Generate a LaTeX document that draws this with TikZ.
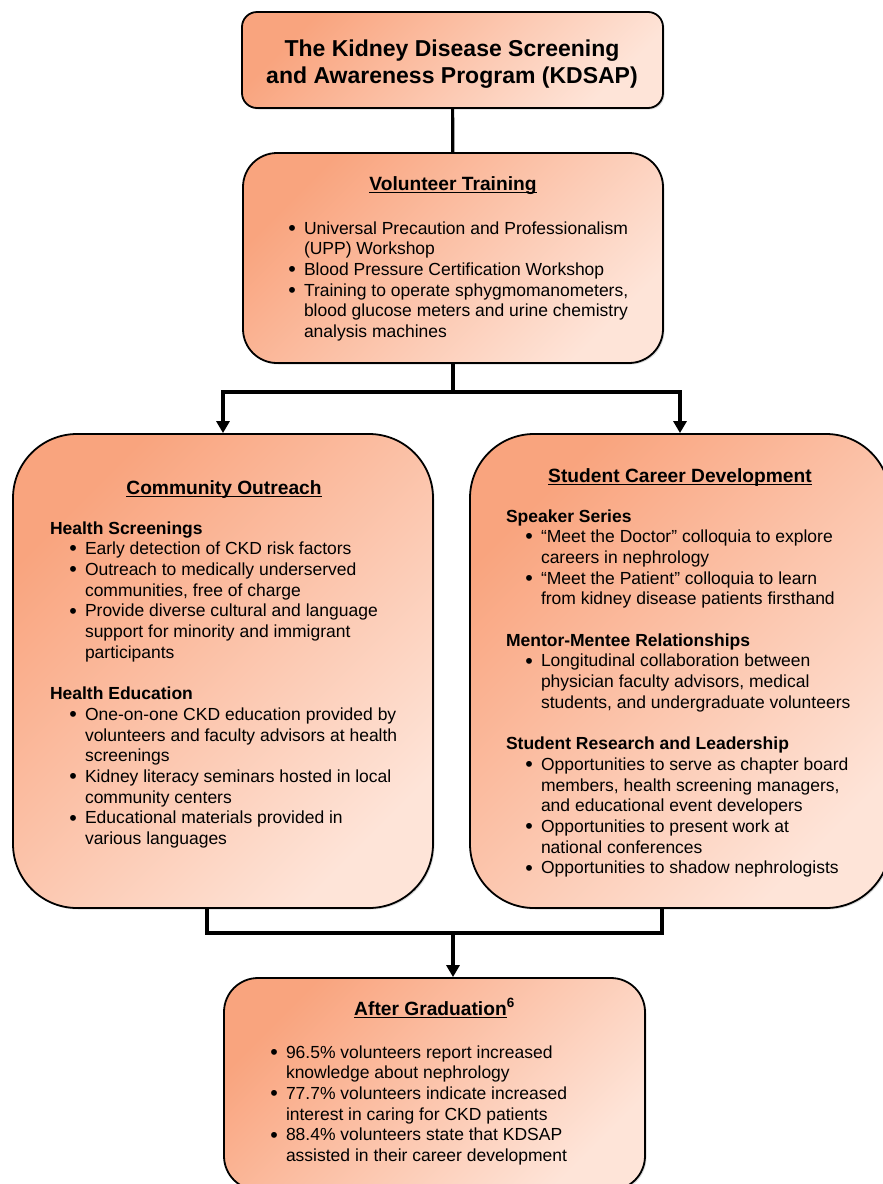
\documentclass[tikz,border=0pt]{standalone}
\usepackage{fontspec}
\setmainfont{Liberation Sans}
\usetikzlibrary{shadows,arrows.meta}
\definecolor{cdark}{RGB}{249,164,126}
\definecolor{clight}{RGB}{254,228,216}
\newcommand\hdul[1]{\setbox0\hbox{#1}\rlap{\rule[-3.2pt]{\wd0}{1.5pt}}\box0}
\newcommand\bdot{\raisebox{-1.2pt}{\fontsize{21.5pt}{0pt}\selectfont•}}
\newcommand\bl{\par\noindent\llap{\bdot\hspace{8pt}}}
\newcommand\sh[1]{\par\noindent\hspace*{-35pt}\textbf{#1}}
\newcommand\gapline{\par\vspace{20.7pt}}
\newcommand\blk[1]{\parbox[t]{400pt}{\fontsize{17.5pt}{20.7pt}\selectfont\raggedright #1}}
\newcommand\hdfont{\fontsize{19.2pt}{23pt}\selectfont\bfseries}
\tikzset{
  box/.style={draw=black, line width=1.8pt, top color=cdark, bottom color=clight, shading angle=45,
    drop shadow={shadow xshift=1.5pt, shadow yshift=-1.5pt, opacity=0.3}, inner sep=0pt},
  conn/.style={line width=3.2pt, draw=black, line join=miter},
  arr/.style={conn, -{Triangle[length=12pt,width=13pt]}},
  txt/.style={inner sep=0pt, outer sep=0pt, anchor=base west},
  hd/.style={inner sep=0pt, outer sep=0pt, anchor=base, font=\hdfont}
}
\begin{document}
\begin{tikzpicture}[x=1pt,y=-1pt]
\clip (0,0) rectangle (883,1184);
% boxes
\node[box, minimum width=421pt, minimum height=96pt, rounded corners=15pt] (b1) at (452.5,60) {};
\node[box, minimum width=420pt, minimum height=210pt, rounded corners=34pt] (b2) at (453,258) {};
\node[box, minimum width=420pt, minimum height=474pt, rounded corners=64pt] (b3) at (223,671) {};
\node[box, minimum width=420pt, minimum height=474pt, rounded corners=64pt] (b4) at (680,671) {};
\node[box, minimum width=421pt, minimum height=212pt, rounded corners=34pt] (b5) at (434.5,1084) {};
% connectors
\coordinate (split) at (453,392);
\coordinate (merge) at (453,933);
\draw[conn] (b1) -- (b2);
\draw[conn] (b2.south) -- (split);
\draw[arr] (split) -| (b3.north);
\draw[arr] (split) -| (b4.north);
\draw[conn] ([xshift=-16pt]b3.south) |- (merge) -| ([xshift=-18pt]b4.south);
\draw[arr] (merge) -- (merge |- b5.north);
% title
\node[inner sep=0pt, anchor=base] (t1) at (452,56) {\parbox[t]{420pt}{\centering\fontsize{23pt}{27pt}\selectfont\bfseries The Kidney Disease Screening\\ and Awareness Program (KDSAP)}};
% volunteer training
\node[hd] (h2) at (453,190) {\hdul{Volunteer Training}};
\node[txt] (l2) at (304,234) {\blk{%
\bl Universal Precaution and Professionalism\\ (UPP) Workshop
\bl Blood Pressure Certification Workshop
\bl Training to operate sphygmomanometers,\\ blood glucose meters and urine chemistry\\ analysis machines}};
% community outreach
\node[hd] (h3) at (224,494) {\hdul{Community Outreach}};
\node[txt] (l3) at (85,534) {\blk{%
\sh{Health Screenings}
\bl Early detection of CKD risk factors
\bl Outreach to medically underserved\\ communities, free of charge
\bl Provide diverse cultural and language\\ support for minority and immigrant\\ participants
\gapline
\sh{Health Education}
\bl One-on-one CKD education provided by\\ volunteers and faculty advisors at health\\ screenings
\bl Kidney literacy seminars hosted in local\\ community centers
\bl Educational materials provided in\\ various languages}};
% student career development
\node[hd] (h4) at (680,482) {\hdul{Student Career Development}};
\node[txt] (l4) at (541,522) {\blk{%
\sh{Speaker Series}
\bl “Meet the Doctor” colloquia to explore\\ careers in nephrology
\bl “Meet the Patient” colloquia to learn\\ from kidney disease patients firsthand
\gapline
\sh{Mentor-Mentee Relationships}
\bl Longitudinal collaboration between\\ physician faculty advisors, medical\\ students, and undergraduate volunteers
\gapline
\sh{Student Research and Leadership}
\bl Opportunities to serve as chapter board\\ members, health screening managers,\\ and educational event developers
\bl Opportunities to present work at\\ national conferences
\bl Opportunities to shadow nephrologists}};
% after graduation
\node[hd] (h5) at (434.5,1015) {\hdul{After Graduation}\textsuperscript{6}};
\node[txt] (l5) at (286,1058) {\blk{%
\bl 96.5\% volunteers report increased\\ knowledge about nephrology
\bl 77.7\% volunteers indicate increased\\ interest in caring for CKD patients
\bl 88.4\% volunteers state that KDSAP\\ assisted in their career development}};
\end{tikzpicture}
\end{document}
